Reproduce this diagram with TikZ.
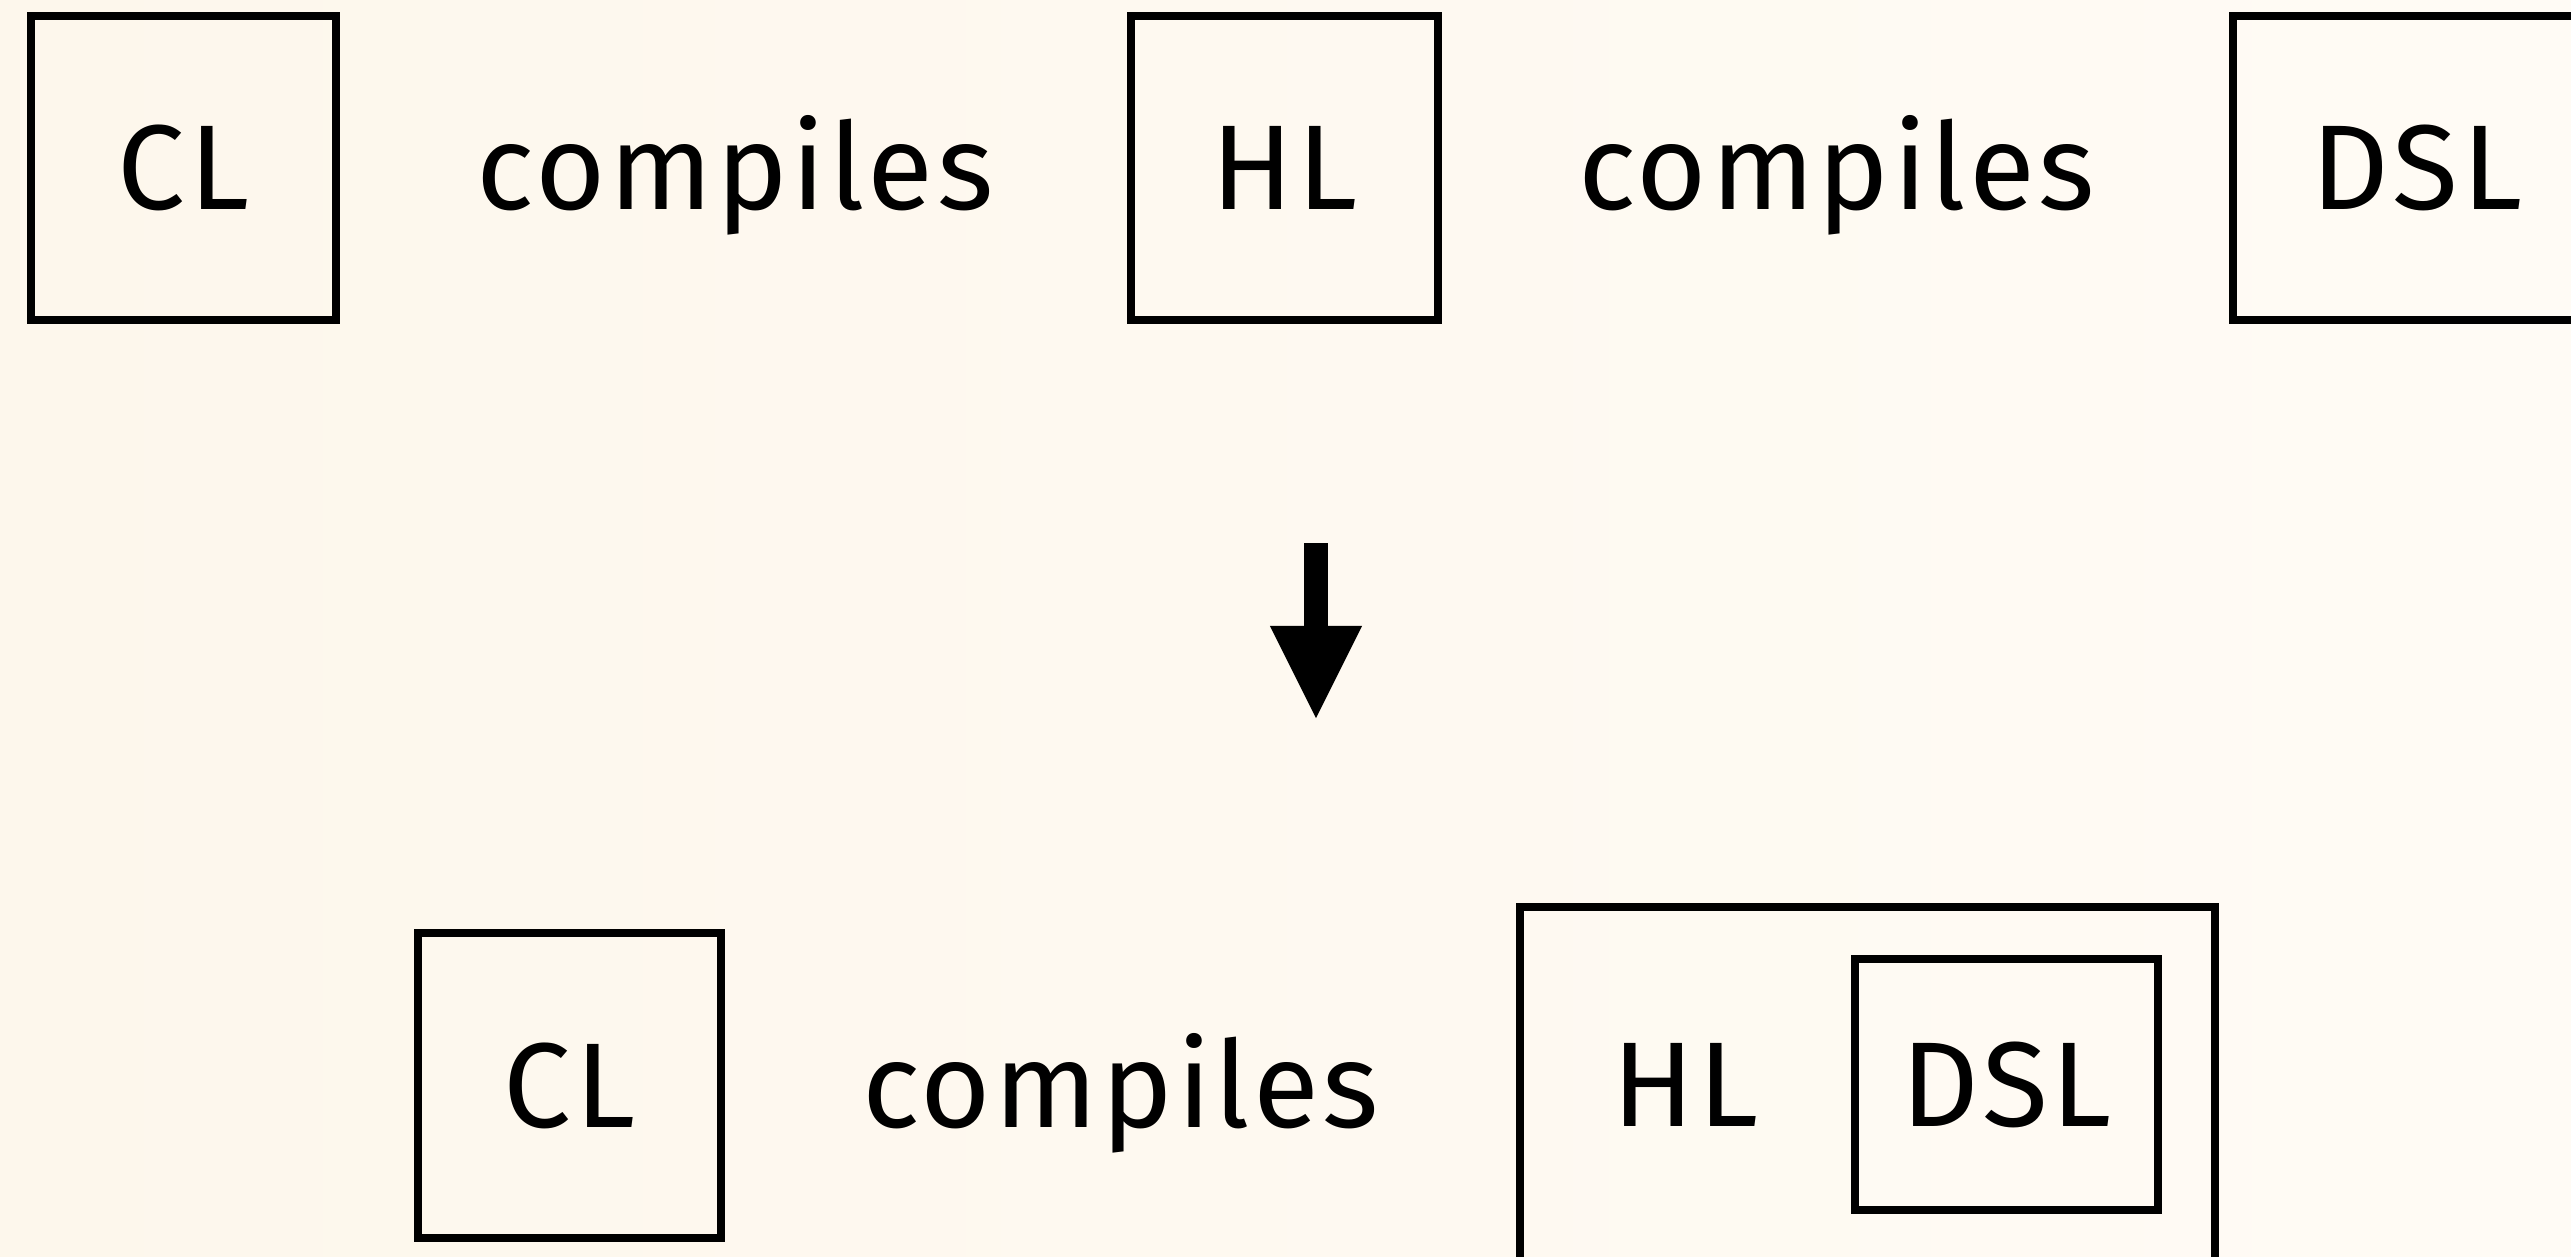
\documentclass[tikz,border=0pt]{standalone}
\usepackage{fontspec}
\setmainfont{Fira Sans}[LetterSpace=3.0]
\usetikzlibrary{arrows.meta}
\definecolor{paperA}{RGB}{253,247,236}
\definecolor{paperB}{RGB}{255,251,245}
\tikzset{
  lbl/.style={inner sep=0pt, font=\fontsize{34.3pt}{40pt}\selectfont,
              text height=23.6pt, text depth=0pt},
  frame/.style={lbl, draw, line width=2.2pt},
}
\begin{document}
\begin{tikzpicture}[x=0.01cm, y=-0.01cm]
  % canvas
  \useasboundingbox (0,0) rectangle (2571,1256);
  \shade[shading angle=135, left color=paperA, right color=paperB]
    (0,0) rectangle (2571,1256);

  % top row: CL compiles HL, HL compiles DSL
  \node[frame, minimum width=305*0.01cm, minimum height=304*0.01cm] (cl1) at (183.5,168) {CL};
  \node[lbl] (c1) at (735,168) {compiles};
  \node[frame, minimum width=307*0.01cm, minimum height=304*0.01cm] (hl1) at (1284.5,168) {HL};
  \node[lbl] (c2) at (1836.5,168) {compiles};
  \node[frame, minimum width=368*0.01cm, minimum height=304*0.01cm] (dsl1) at (2417,168) {DSL};

  % transition arrow
  \coordinate (downtop) at (1316,543);
  \coordinate (downtip) at (1316,718);
  \draw[line width=0.24cm, -{Triangle[width=0.92cm, length=0.92cm, line width=0pt]}]
    (downtop) -- (downtip);

  % bottom row: CL compiles HL with embedded DSL
  \node[frame, minimum width=303*0.01cm, minimum height=305*0.01cm] (cl2) at (569.5,1085.5) {CL};
  \node[lbl] (c3) at (1120.5,1086) {compiles};
  \node[draw, line width=2.2pt, inner sep=0pt, minimum width=695*0.01cm,
        minimum height=356*0.01cm] (host) at (1867.5,1085) {};
  \node[lbl] (hl2) at (1685.5,1085) {HL};
  \node[frame, minimum width=303*0.01cm, minimum height=251*0.01cm] (dsl2) at (2006.5,1084.5) {DSL};
\end{tikzpicture}
\end{document}
